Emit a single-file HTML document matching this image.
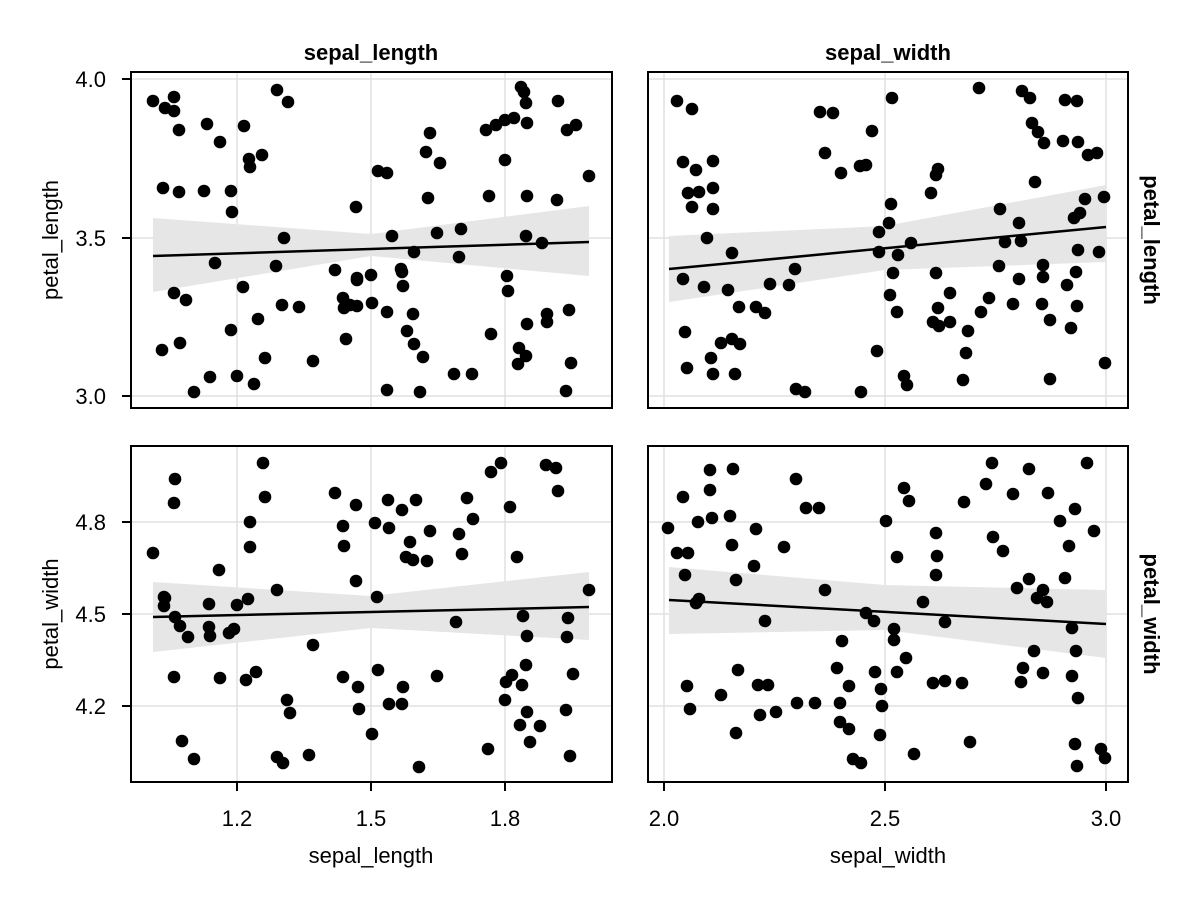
<!DOCTYPE html>
<html><head><meta charset="utf-8"><style>
html,body{margin:0;padding:0;background:#fff;}
svg{display:block;font-family:"Liberation Sans",sans-serif;}
</style></head><body>
<svg id="s" width="1200" height="900" viewBox="0 0 1200 900" xmlns="http://www.w3.org/2000/svg">
<rect width="1200" height="900" fill="#fff"/>
<g id="g"></g>
<text x="371" y="60" font-size="22" font-weight="bold" text-anchor="middle">sepal_length</text>
<text x="888" y="60" font-size="22" font-weight="bold" text-anchor="middle">sepal_width</text>
<text transform="translate(1144,240) rotate(90)" font-size="22" font-weight="bold" text-anchor="middle">petal_length</text>
<text transform="translate(1144,614) rotate(90)" font-size="22" font-weight="bold" text-anchor="middle">petal_width</text>
<g font-size="22" text-anchor="end">
<text x="106" y="87">4.0</text><text x="106" y="246">3.5</text><text x="106" y="404">3.0</text>
<text x="106" y="530">4.8</text><text x="106" y="622">4.5</text><text x="106" y="714">4.2</text>
</g>
<g font-size="22" text-anchor="middle">
<text x="237" y="826">1.2</text><text x="371" y="826">1.5</text><text x="505" y="826">1.8</text>
<text x="664" y="826">2.0</text><text x="885" y="826">2.5</text><text x="1106" y="826">3.0</text>
</g>
<g font-size="22" text-anchor="middle">
<text x="371" y="863">sepal_length</text><text x="888" y="863">sepal_width</text>
<text transform="translate(58,240) rotate(-90)">petal_length</text>
<text transform="translate(58,614) rotate(-90)">petal_width</text>
</g>
</svg>
<script>
var NS="http://www.w3.org/2000/svg",g=document.getElementById("g");
function el(t,a){var e=document.createElementNS(NS,t);for(var k in a)e.setAttribute(k,a[k]);g.appendChild(e);return e;}
var P=[
{x0:131,y0:72,x1:612,y1:408,vx:[237,371,505],hy:[79,238,396],tk:true,
 band:"M153,218 L371,234 L589,206 L589,276 L371,256 L153,292 Z",line:[153,256,589,242],
 pts:[[153,101],[165,108],[174,97],[174,111],[163,188],[207,124],[220,142],[244,126],[250,167],[249,159],[262,155],[277,90],[288,102],[179,130],[179,192],[204,191],[231,191],[232,212],[215,263],[162,350],[174,293],[186,300],[180,343],[210,377],[194,392],[237,376],[254,384],[265,358],[276,266],[284,238],[282,305],[299,307],[243,287],[258,319],[231,330],[313,361],[335,270],[343,298],[346,339],[344,308],[350,305],[357,278],[357,280],[356,207],[357,306],[372,303],[371,275],[378,171],[387,173],[392,236],[387,312],[387,390],[401,269],[402,272],[407,331],[403,286],[413,314],[414,344],[414,252],[420,392],[423,357],[426,152],[428,198],[430,133],[437,233],[440,163],[454,374],[459,257],[461,229],[472,374],[486,130],[489,196],[491,334],[496,125],[505,120],[505,160],[508,291],[507,276],[514,118],[518,364],[519,348],[526,236],[526,356],[527,324],[521,87],[524,92],[526,103],[527,123],[527,196],[547,322],[547,314],[542,243],[558,101],[557,200],[567,130],[569,310],[566,391],[576,125],[571,363],[589,176]]},
{x0:648,y0:72,x1:1128,y1:408,vx:[664,885,1106],hy:[79,238,396],tk:false,
 band:"M669,236 L885,226 L1106,185 L1106,262 L885,270 L669,302 Z",line:[669,269,1106,227],
 pts:[[677,101],[692,109],[683,162],[696,170],[692,207],[688,193],[699,192],[713,188],[713,209],[713,161],[707,238],[683,279],[685,332],[687,368],[711,358],[713,374],[721,343],[704,287],[732,253],[728,290],[739,307],[732,339],[740,344],[735,374],[756,307],[765,313],[770,284],[789,285],[795,269],[796,389],[805,392],[820,112],[833,113],[825,153],[841,173],[860,166],[866,165],[872,131],[892,98],[889,223],[891,204],[879,232],[879,252],[893,273],[890,295],[898,255],[897,312],[861,392],[877,351],[904,376],[907,385],[911,243],[931,193],[938,169],[936,175],[950,293],[950,322],[933,322],[938,308],[936,273],[939,326],[963,380],[966,353],[968,331],[981,312],[989,298],[999,266],[1005,242],[1013,304],[1019,279],[1000,209],[1021,241],[1019,223],[1032,123],[1035,182],[1038,132],[1044,143],[1043,265],[1043,277],[1050,320],[1042,304],[979,88],[1022,91],[1030,98],[1065,100],[1050,379],[1074,218],[1080,213],[1099,252],[1104,197],[1097,153],[1088,155],[1085,199],[1076,272],[1077,306],[1078,250],[1067,285],[1071,328],[1105,363],[1077,101],[1078,142],[1063,141]]},
{x0:131,y0:446,x1:612,y1:782,vx:[237,371,505],hy:[522,614,706],tk:true,
 band:"M153,582 L371,596 L589,572 L589,640 L371,628 L153,652 Z",line:[153,617,589,607],
 pts:[[153,553],[175,479],[174,503],[164,597],[164,606],[165,598],[175,617],[180,626],[188,637],[210,636],[219,570],[209,604],[209,627],[229,633],[234,629],[237,605],[248,599],[250,522],[250,547],[246,680],[263,463],[265,497],[256,672],[277,590],[287,700],[290,713],[283,763],[277,757],[313,645],[335,493],[343,526],[344,546],[343,677],[356,505],[356,581],[358,687],[359,709],[375,523],[377,597],[378,670],[388,500],[389,528],[389,704],[402,510],[402,704],[403,687],[406,557],[410,542],[416,500],[413,560],[419,767],[427,561],[430,531],[437,676],[456,622],[459,534],[462,554],[467,498],[473,519],[491,472],[501,463],[506,682],[505,700],[512,675],[510,507],[517,557],[520,725],[522,685],[523,616],[526,665],[527,636],[527,712],[540,726],[530,742],[546,465],[556,468],[558,491],[568,618],[567,637],[566,710],[570,756],[573,674],[589,590],[488,749],[182,741],[194,759],[372,734],[309,755],[174,677],[220,678]]},
{x0:648,y0:446,x1:1128,y1:782,vx:[664,885,1106],hy:[522,614,706],tk:false,
 band:"M669,567 L885,585 L1106,590 L1106,658 L885,630 L669,634 Z",line:[669,600,1106,624],
 pts:[[668,528],[677,553],[685,575],[688,553],[696,603],[699,599],[690,709],[683,497],[698,522],[710,490],[712,518],[710,470],[733,469],[730,516],[732,545],[736,580],[738,670],[736,733],[754,566],[756,529],[765,621],[760,715],[758,685],[768,685],[776,712],[784,547],[796,479],[797,703],[806,508],[815,703],[819,508],[825,590],[837,668],[840,703],[842,641],[840,722],[849,686],[849,729],[853,759],[861,763],[866,613],[875,672],[874,621],[882,706],[880,735],[881,689],[886,521],[894,640],[894,629],[897,557],[906,658],[904,488],[897,672],[909,501],[914,754],[923,602],[933,683],[936,533],[937,556],[936,575],[945,622],[945,681],[962,683],[964,502],[970,742],[986,484],[992,463],[993,537],[1013,494],[1017,588],[1023,668],[1021,682],[1029,579],[1029,469],[1034,651],[1037,598],[1043,590],[1043,673],[1047,602],[1048,493],[1060,521],[1065,578],[1069,546],[1072,676],[1075,744],[1077,766],[1078,698],[1076,651],[1072,628],[1075,509],[1087,463],[1094,531],[1101,749],[1105,758],[1003,551],[687,686],[721,695]]}
];
P.forEach(function(p){
 el("rect",{x:p.x0,y:p.y0,width:p.x1-p.x0,height:p.y1-p.y0,fill:"#fff"});
 p.vx.forEach(function(x){el("line",{x1:x,x2:x,y1:p.y0,y2:p.y1,stroke:"#e0e0e0","stroke-width":1.5});});
 p.hy.forEach(function(y){el("line",{x1:p.x0,x2:p.x1,y1:y,y2:y,stroke:"#e0e0e0","stroke-width":1.5});});
 el("path",{d:p.band,fill:"#e6e6e6"});
 el("line",{x1:p.line[0],y1:p.line[1],x2:p.line[2],y2:p.line[3],stroke:"#000","stroke-width":2.5});
 p.pts.forEach(function(c){el("circle",{cx:c[0],cy:c[1],r:6.3,fill:"#000"});});
 el("rect",{x:p.x0,y:p.y0,width:p.x1-p.x0,height:p.y1-p.y0,fill:"none",stroke:"#000","stroke-width":2});
 if(p.tk)p.hy.forEach(function(y){el("line",{x1:p.x0-9,x2:p.x0,y1:y,y2:y,stroke:"#000","stroke-width":2});});
 if(p.y0>400)p.vx.forEach(function(x){el("line",{x1:x,x2:x,y1:p.y1,y2:p.y1+9,stroke:"#000","stroke-width":2});});
});
</script>
</body></html>
